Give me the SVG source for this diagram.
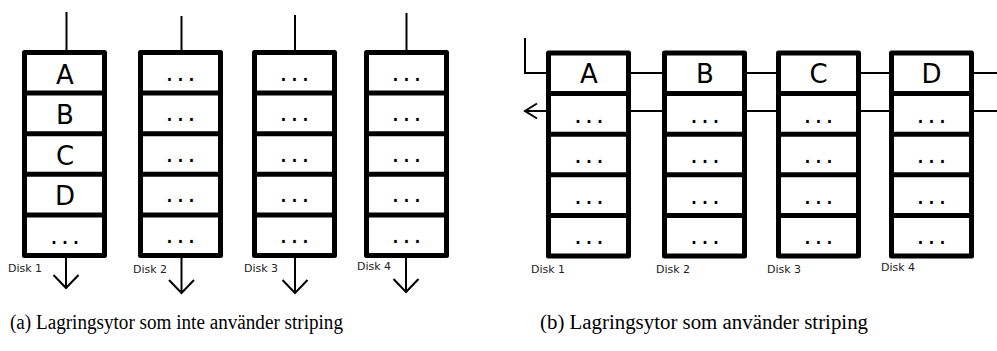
<svg xmlns="http://www.w3.org/2000/svg" width="997" height="351" viewBox="0 0 997 351">
<style>
.box{fill:#fff;stroke:#000;stroke-width:5;stroke-linejoin:round}
.div{stroke:#000;stroke-width:5}
.ln{fill:none;stroke:#000;stroke-width:2}
.big{font-family:"DejaVu Sans",sans-serif;font-size:26px;text-anchor:middle;fill:#000}
.dots{font-family:"DejaVu Sans",sans-serif;font-size:25px;letter-spacing:3px;text-anchor:middle;fill:#000}
.lbl{font-family:"DejaVu Sans",sans-serif;font-size:11px;fill:#222}
.cap{font-family:"Liberation Serif","Times New Roman",serif;font-size:20px;fill:#000}
</style>
<defs>
<g id="disk">
<rect class="box" x="0" y="0" width="80" height="203"/>
<line class="div" x1="0" y1="40.6" x2="80" y2="40.6"/>
<line class="div" x1="0" y1="81.2" x2="80" y2="81.2"/>
<line class="div" x1="0" y1="121.8" x2="80" y2="121.8"/>
<line class="div" x1="0" y1="162.4" x2="80" y2="162.4"/>
</g>
</defs>

<!-- Panel (a) -->
<g id="a-disk1">
<use href="#disk" x="24.5" y="52.5"/>
<text class="big" x="65" y="83.5">A</text>
<text class="big" x="65" y="124">B</text>
<text class="big" x="65" y="164.5">C</text>
<text class="big" x="65" y="205">D</text>
<text class="dots" x="66.5" y="243.5">...</text>
<text class="lbl" x="8" y="272">Disk 1</text>
</g>
<g id="a-disk2">
<use href="#disk" x="140.5" y="52.5"/>
<text class="dots" x="182" y="80.5">...</text>
<text class="dots" x="182" y="121">...</text>
<text class="dots" x="182" y="161.5">...</text>
<text class="dots" x="182" y="202">...</text>
<text class="dots" x="182" y="243">...</text>
<text class="lbl" x="133" y="273">Disk 2</text>
</g>
<g id="a-disk3">
<use href="#disk" x="254.5" y="52.5"/>
<text class="dots" x="296" y="80.5">...</text>
<text class="dots" x="296" y="121">...</text>
<text class="dots" x="296" y="161.5">...</text>
<text class="dots" x="296" y="202">...</text>
<text class="dots" x="296" y="243">...</text>
<text class="lbl" x="244" y="272">Disk 3</text>
</g>
<g id="a-disk4">
<use href="#disk" x="366.5" y="52.5"/>
<text class="dots" x="408" y="80.5">...</text>
<text class="dots" x="408" y="121">...</text>
<text class="dots" x="408" y="161.5">...</text>
<text class="dots" x="408" y="202">...</text>
<text class="dots" x="408" y="243">...</text>
<text class="lbl" x="357" y="270">Disk 4</text>
</g>

<!-- Panel (b) -->
<g id="b-disk1">
<use href="#disk" x="548.5" y="53"/>
<text class="big" x="589" y="83">A</text>
<text class="dots" x="590.5" y="122.5">...</text>
<text class="dots" x="590.5" y="163">...</text>
<text class="dots" x="590.5" y="203.5">...</text>
<text class="dots" x="590.5" y="244">...</text>
<text class="lbl" x="531" y="273">Disk 1</text>
</g>
<g id="b-disk2">
<use href="#disk" x="664.5" y="53"/>
<text class="big" x="705" y="83">B</text>
<text class="dots" x="706.5" y="122.5">...</text>
<text class="dots" x="706.5" y="163">...</text>
<text class="dots" x="706.5" y="203.5">...</text>
<text class="dots" x="706.5" y="244">...</text>
<text class="lbl" x="656" y="273">Disk 2</text>
</g>
<g id="b-disk3">
<use href="#disk" x="778.5" y="53"/>
<text class="big" x="818.5" y="83">C</text>
<text class="dots" x="820" y="122.5">...</text>
<text class="dots" x="820" y="163">...</text>
<text class="dots" x="820" y="203.5">...</text>
<text class="dots" x="820" y="244">...</text>
<text class="lbl" x="767" y="273">Disk 3</text>
</g>
<g id="b-disk4">
<use href="#disk" x="891.5" y="53"/>
<text class="big" x="931.5" y="83">D</text>
<text class="dots" x="933" y="122.5">...</text>
<text class="dots" x="933" y="163">...</text>
<text class="dots" x="933" y="203.5">...</text>
<text class="dots" x="933" y="244">...</text>
<text class="lbl" x="881" y="271">Disk 4</text>
</g>

<g id="connectors">
<!-- panel (a) -->
<line class="ln" x1="66.5" y1="12" x2="66.5" y2="50"/>
<line class="ln" x1="181.5" y1="16" x2="181.5" y2="50"/>
<line class="ln" x1="295" y1="15" x2="295" y2="50"/>
<line class="ln" x1="406.5" y1="13" x2="406.5" y2="50"/>
<path class="ln" d="M66,258 V288 M53.5,275 L66,288 L78.5,275"/>
<path class="ln" d="M181.5,258 V293 M169,280 L181.5,293 L194,280"/>
<path class="ln" d="M295,258 V293 M282.5,280 L295,293 L307.5,280"/>
<path class="ln" d="M406,258 V292 M393.5,279 L406,292 L418.5,279"/>
<!-- panel (b) -->
<path class="ln" d="M525,38 V73 H546"/>
<line class="ln" x1="631" y1="73" x2="662" y2="73"/>
<line class="ln" x1="747" y1="73" x2="776" y2="73"/>
<line class="ln" x1="860" y1="73" x2="889" y2="73"/>
<line class="ln" x1="973" y1="73" x2="997" y2="73"/>
<line class="ln" x1="997" y1="111" x2="973" y2="111"/>
<line class="ln" x1="889" y1="111" x2="860" y2="111"/>
<line class="ln" x1="776" y1="111" x2="747" y2="111"/>
<line class="ln" x1="662" y1="111" x2="631" y2="111"/>
<path class="ln" d="M546,111 H525 M537,103.5 L525,111 L537,118.5"/>
</g>

<text class="cap" x="10" y="329" textLength="333" lengthAdjust="spacingAndGlyphs">(a) Lagringsytor som inte använder striping</text>
<text class="cap" x="540" y="329" textLength="328" lengthAdjust="spacingAndGlyphs">(b) Lagringsytor som använder striping</text>
</svg>
